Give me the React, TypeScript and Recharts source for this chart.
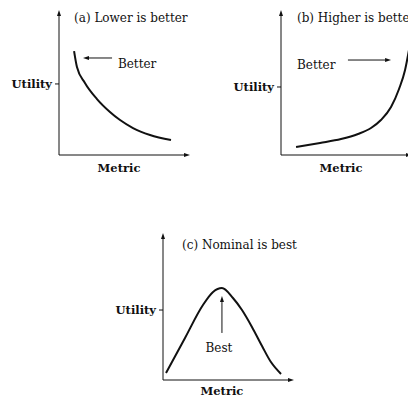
import React from 'react';
import { LineChart, Line, XAxis, YAxis, ReferenceLine, ReferenceDot } from 'recharts';

const FONT = '"DejaVu Serif", serif';
const INK = '#111';

// (a) Lower is better
const metricA = [1.15, 1.37, 1.98, 2.9, 3.89, 4.66, 5.65, 6.95, 8.55];
const utilityA = [7.17, 6.07, 4.97, 3.86, 2.97, 2.41, 1.86, 1.38, 1.03];

// (b) Higher is better
const metricB = [1.15, 2.98, 4.58, 5.88, 6.87, 7.63, 8.4, 9.01, 9.47, 9.77];
const utilityB = [0.55, 0.83, 1.1, 1.45, 1.86, 2.41, 3.31, 4.55, 5.86, 7.24];

// (c) Nominal is best
const metricC = [0.23, 1.68, 3.05, 3.82, 4.5, 5.34, 6.03, 6.79, 7.56, 8.24, 9.01];
const utilityC = [0.48, 2.86, 5.1, 5.99, 6.26, 5.58, 4.76, 3.61, 2.31, 1.22, 0.41];

const titles = ['(a) Lower is better', '(b) Higher is better', '(c) Nominal is best'];
const notes = ['Better', 'Better', 'Best'];

const arrowShape = (head: number, half: number) => (p: any) => {
  const { x1, y1, x2, y2 } = p;
  const ang = Math.atan2(y2 - y1, x2 - x1);
  const bx = x2 - head * Math.cos(ang);
  const by = y2 - head * Math.sin(ang);
  const px = -Math.sin(ang) * half;
  const py = Math.cos(ang) * half;
  return (
    <g>
      <line x1={x1} y1={y1} x2={bx} y2={by} stroke={INK} strokeWidth={1} />
      <polygon points={`${x2},${y2} ${bx + px},${by + py} ${bx - px},${by - py}`} fill={INK} />
    </g>
  );
};

const textShape = (text: string, anchor: 'start' | 'middle') => (p: any) => (
  <text
    x={p.cx}
    y={p.cy}
    textAnchor={anchor}
    dominantBaseline="central"
    fontFamily={FONT}
    fontSize={12}
    fill={INK}
  >
    {text}
  </text>
);

interface PanelProps {
  left: number;
  top: number;
  height: number;
  axisHeight: number;
  metricGap: number;
  xs: number[];
  ys: number[];
  utilityAt: number;
  metricAt: number;
  title: string;
  titleAt: [number, number];
  arrow: [number, number, number, number];
  note: string;
  noteAt: [number, number];
  noteAnchor: 'start' | 'middle';
}

function Panel(props: PanelProps) {
  const data = props.xs.map((x, i) => ({ x, y: props.ys[i] }));
  const [ax1, ay1, ax2, ay2] = props.arrow;
  return (
    <div style={{ position: 'absolute', left: props.left, top: props.top }}>
      <LineChart
        width={200}
        height={props.height}
        data={data}
        margin={{ top: 10, right: 10, left: 0, bottom: 0 }}
      >
        <XAxis
          dataKey="x"
          type="number"
          domain={[0, 10]}
          allowDataOverflow
          height={props.axisHeight}
          axisLine={false}
          tickLine={false}
          ticks={[props.metricAt]}
          tickFormatter={() => 'Metric'}
          tickSize={0}
          tickMargin={props.metricGap}
          tick={{ fontFamily: FONT, fontSize: 11.5, fontWeight: 'bold', fill: INK }}
        />
        <YAxis
          type="number"
          domain={[0, 10]}
          allowDataOverflow
          width={59}
          axisLine={false}
          tickLine={{ stroke: INK }}
          ticks={[props.utilityAt]}
          tickFormatter={() => 'Utility'}
          tickSize={4}
          tickMargin={3}
          tick={{ fontFamily: FONT, fontSize: 11.5, fontWeight: 'bold', fill: INK }}
        />
        <ReferenceLine
          segment={[{ x: 0, y: 0 }, { x: 0, y: 10 }]}
          shape={arrowShape(6, 2)}
        />
        <ReferenceLine
          segment={[{ x: 0, y: 0 }, { x: 10, y: 0 }]}
          shape={arrowShape(6, 2)}
        />
        <ReferenceLine
          segment={[{ x: ax1, y: ay1 }, { x: ax2, y: ay2 }]}
          shape={arrowShape(6, 2)}
        />
        <ReferenceDot
          x={props.titleAt[0]}
          y={props.titleAt[1]}
          r={0}
          shape={textShape(props.title, 'start')}
        />
        <ReferenceDot
          x={props.noteAt[0]}
          y={props.noteAt[1]}
          r={0}
          shape={textShape(props.note, props.noteAnchor)}
        />
        <Line
          type="monotone"
          dataKey="y"
          stroke={INK}
          strokeWidth={2}
          dot={false}
          activeDot={false}
          isAnimationActive={false}
        />
      </LineChart>
    </div>
  );
}

export default function App() {
  return (
    <div
      style={{
        position: 'absolute',
        left: 0,
        top: 0,
        width: 408,
        height: 398,
        overflow: 'hidden',
        background: '#fff',
      }}
    >
      <Panel
        left={0}
        top={0}
        height={180}
        axisHeight={25}
        metricGap={9}
        xs={metricA}
        ys={utilityA}
        utilityAt={4.9}
        metricAt={4.58}
        title={titles[0]}
        titleAt={[1.15, 9.45]}
        arrow={[4.05, 6.69, 1.83, 6.69]}
        note={notes[0]}
        noteAt={[4.5, 6.28]}
        noteAnchor="start"
      />
      <Panel
        left={222}
        top={0}
        height={180}
        axisHeight={25}
        metricGap={9}
        xs={metricB}
        ys={utilityB}
        utilityAt={4.69}
        metricAt={4.58}
        title={titles[1]}
        titleAt={[1.22, 9.45]}
        arrow={[5.11, 6.55, 8.4, 6.55]}
        note={notes[1]}
        noteAt={[1.22, 6.21]}
        noteAnchor="start"
      />
      <Panel
        left={104}
        top={223}
        height={175}
        axisHeight={18}
        metricGap={7}
        xs={metricC}
        ys={utilityC}
        utilityAt={4.76}
        metricAt={4.5}
        title={titles[2]}
        titleAt={[1.45, 9.18]}
        arrow={[4.5, 3.2, 4.5, 5.71]}
        note={notes[2]}
        noteAt={[4.27, 2.18]}
        noteAnchor="middle"
      />
    </div>
  );
}
